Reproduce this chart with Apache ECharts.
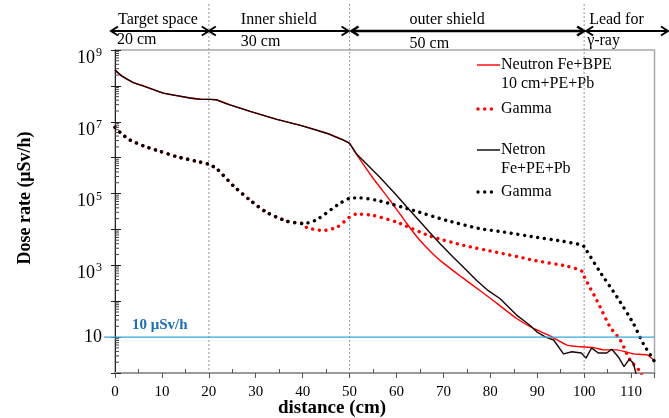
<!DOCTYPE html>
<html><head><meta charset="utf-8">
<script src="https://cdn.jsdelivr.net/npm/echarts@6/dist/echarts.min.js"></script>
<style>html,body{margin:0;padding:0;background:#fff}#c{width:669px;height:418px}</style>
</head><body><div id="c"></div>
<script>
const FONT = '"Liberation Serif", "Times New Roman", serif';

// ---- data (distance in cm, dose rate in µSv/h) ----
const neutronSharedX = [0, 1.4, 3.9, 6, 10.3, 16, 18.5, 20.3, 21.6, 24.5, 28.8, 34.5, 40.1, 45.1, 48.7, 50];
const neutronSharedY = [2.75e8, 1.9e8, 1.23e8, 1.0e8, 6.3e7, 4.6e7, 4.2e7, 4.2e7, 4.1e7, 2.95e7, 1.95e7, 1.17e7, 7.6e6, 4.8e6, 3.1e6, 2.5e6];

const neutronBpeX = [51.2, 54.9, 58.6, 62, 64, 66, 68, 70, 74, 78, 82.1, 85.6, 89.2, 92.8, 96.3, 99.1, 102, 104.1, 107, 110.5, 113.4, 115];
const neutronBpeY = [1.4e6, 2.8e5, 6.5e4, 1.6e4, 7.1e3, 3.55e3, 1.95e3, 1.15e3, 460, 190, 74, 33, 17.4, 10.7, 6.0, 5.4, 5.1, 4.4, 4.4, 3.4, 3.2, 2.2];

const neutronPeX = [51.5, 56.5, 60.1, 62.2, 65, 67, 69.3, 72, 74.5, 77.1, 79.5, 82.1, 85.6, 88.5, 89.9, 91.7, 93.5, 95.6, 97.4, 99.4, 100.4, 101.6, 103, 104.8, 105.9, 107.3, 108.5, 109.6, 110.5, 111.3];
const neutronPeY = [1.26e6, 2.8e5, 8.7e4, 4.2e4, 1.66e4, 8.5e3, 4.0e3, 1.74e3, 830, 380, 200, 117, 41, 21, 14, 10.2, 8.3, 3.4, 3.9, 3.6, 2.6, 5.0, 3.6, 3.6, 4.6, 2.8, 1.5, 2.4, 1.9, 0.7];

const gammaSharedX = [0, 1.4, 3.2, 6.0, 9.6, 13.1, 17.4, 19.9, 21.7, 25.2, 28.8, 32.3, 36.6, 40.2];
const gammaSharedY = [7.0e6, 4.6e6, 3.1e6, 2.14e6, 1.5e6, 1.07e6, 7.9e5, 6.6e5, 4.9e5, 1.66e5, 6.5e4, 3.0e4, 1.7e4, 1.45e4];

const gammaBpeX = [40.9, 44.4, 47.3, 50, 51.5, 55.1, 60.1, 67.2, 74.3, 81.4, 87.1, 89.2, 96.3, 99.5, 100.2, 102.7, 105.5, 107.7, 109.8, 111.9, 113];
const gammaBpeY = [1.12e4, 9.3e3, 1.15e4, 2.2e4, 2.7e4, 2.45e4, 1.58e4, 6.5e3, 3.6e3, 2.3e3, 1.6e3, 1.38e3, 950, 690, 430, 107, 19.5, 8.3, 2.3, 1.1, 0.5];

const gammaPeX = [43, 47.3, 50, 52.2, 56.5, 63.6, 70.7, 77.8, 82.8, 89.2, 94.9, 99.7, 100.5, 103.4, 107, 110.5, 112.6, 115];
const gammaPeY = [1.86e4, 4.7e4, 7.4e4, 7.6e4, 6.2e4, 3.4e4, 1.78e4, 1.05e4, 8.5e3, 6.2e3, 4.8e3, 3.6e3, 2.6e3, 650, 132, 24, 6.6, 2.1];

const limitValue = 10;
const limitLabel = '10 μSv/h';
const sectionBounds = [0, 20, 50, 100, 115];
const sectionNames = ['Target space', 'Inner shield', 'outer shield', 'Lead for'];
const sectionSizes = ['20 cm', '30 cm', '50 cm', 'γ-ray'];
const legendNames = [['Neutron Fe+BPE', '10 cm+PE+Pb'], ['Gamma'], ['Netron', 'Fe+PE+Pb'], ['Gamma']];

const zip = (xs, ys) => xs.map((x, i) => [x, ys[i]]);
const redNeutron = zip(neutronSharedX.concat(neutronBpeX), neutronSharedY.concat(neutronBpeY));
const blackNeutron = zip(neutronSharedX.concat(neutronPeX), neutronSharedY.concat(neutronPeY));
const redGamma = zip(gammaSharedX.concat(gammaBpeX), gammaSharedY.concat(gammaBpeY));
const blackGamma = zip(gammaSharedX.concat(gammaPeX), gammaSharedY.concat(gammaPeY));

// log minor tick positions (axis decoration)
const logMinor = [];
for (let n = 0; n < 9; n++) for (let k = 2; k <= 9; k++) logMinor.push([0, k * Math.pow(10, n)]);

const DOT = [0.01, 6.7];

const chart = echarts.init(document.getElementById('c'), null, {renderer: 'canvas'});
const option = {
  animation: false,
  backgroundColor: '#fff',
  grid: {left: 115, right: 14.5, top: 50, bottom: 45, show: true, borderColor: '#a8a8a8', borderWidth: 1.5},
  xAxis: [{
    type: 'value', min: 0, max: 115, interval: 10,
    axisLine: {lineStyle: {color: '#9a9a9a', width: 2}},
    axisTick: {show: true, length: 5, lineStyle: {color: '#555', width: 1}},
    minorTick: {show: false},
    splitLine: {show: false},
    showMaxLabel: false,
    axisLabel: {margin: 12, fontFamily: FONT, fontSize: 15, color: '#000',
      formatter: v => (v % 10 === 0 ? String(v) : '')}
  }, {
    type: 'value', min: 0, max: 115, interval: 10, position: 'bottom',
    axisLine: {show: false},
    axisTick: {show: false, inside: true},
    minorTick: {show: true, splitNumber: 2, length: 4, lineStyle: {color: '#555', width: 1}},
    splitLine: {show: false},
    axisLabel: {show: false}
  }],
  yAxis: [{
    type: 'log', logBase: 10, min: 1, max: 1e9, interval: 1,
    axisLine: {show: true, lineStyle: {color: '#222', width: 1}},
    axisTick: {show: true, length: 4, lineStyle: {color: '#222'}},
    splitLine: {show: false},
    axisLabel: {
      margin: 13, fontFamily: FONT, color: '#000',
      formatter: v => {
        const e = Math.round(Math.log10(v));
        if (e % 2 === 0) return '';
        if (e === 1) return '{c|10}';
        return '{a|10}{b|' + e + '}';
      },
      rich: {
        a: {fontFamily: FONT, fontSize: 18, color: '#000', padding: [16, 0, 0, 0], verticalAlign: 'top'},
        b: {fontFamily: FONT, fontSize: 12, color: '#000', verticalAlign: 'top', padding: [14, 0, 0, 1]},
        c: {fontFamily: FONT, fontSize: 18, color: '#000'}
      }
    }
  }, {
    type: 'log', logBase: 10, min: 1, max: 1e9, interval: 1, position: 'left',
    axisLine: {show: false},
    axisTick: {show: true, inside: true, length: 6, lineStyle: {color: '#222'}},
    splitLine: {show: false},
    axisLabel: {show: false}
  }],
  series: [
    {type: 'line', name: 'redGamma', data: redGamma, showSymbol: false, smooth: 0.2, z: 2,
     lineStyle: {color: '#ff0000', width: 3.4, type: DOT, cap: 'round'}},
    {type: 'line', name: 'redNeutron', data: redNeutron, showSymbol: false, smooth: 0.15, z: 3,
     lineStyle: {color: '#ff0000', width: 1.4}},
    {type: 'line', name: 'blackGamma', data: blackGamma, showSymbol: false, smooth: 0.2, z: 4,
     lineStyle: {color: '#000', width: 3.4, type: DOT, cap: 'round'}},
    {type: 'line', name: 'blackNeutron', data: blackNeutron, showSymbol: false, z: 5,
     lineStyle: {color: '#1a0505', width: 1.4}},
    {type: 'custom', silent: true, data: logMinor, z: 6, clip: false,
     renderItem: (params, api) => {
       const p = api.coord([0, api.value(1)]);
       return {type: 'line', shape: {x1: p[0], y1: p[1], x2: p[0] + 4, y2: p[1]},
               style: {stroke: '#444', lineWidth: 1}};
     }}
  ]
};
chart.setOption(option);

const X = v => chart.convertToPixel({xAxisIndex: 0}, v);
const Y = v => chart.convertToPixel({yAxisIndex: 0}, v);
const g = [];
const plotBottom = Y(1), plotLeft = X(0), plotRight = X(115);

// dashed section boundaries
[20, 50, 100].forEach(v => {
  g.push({type: 'line', z: 1, shape: {x1: X(v), y1: 4, x2: X(v), y2: plotBottom},
          style: {stroke: '#8d99aa', lineWidth: 1, lineDash: [2, 2]}});
});

// section arrows
const arrowY = 31;
const head = (x, dir, w) => ({type: 'polyline', shape: {points: [[x - dir * 7, arrowY - 4.5], [x, arrowY], [x - dir * 7, arrowY + 4.5]]},
  style: {stroke: '#000', lineWidth: w, fill: null}});
const segs = [[plotLeft - 4, X(20)], [X(20), X(50) - 1], [X(50) + 2, X(100)], [X(100) + 2, 668]];
const widths = [2, 2, 2.6, 2];
const nameDx = [3, 32, 60, 5];
const sizeDx = [2, 32, 60, 3];
const sizeY = [40, 42, 44, 41];
segs.forEach((s, i) => {
  g.push({type: 'line', shape: {x1: s[0], y1: arrowY, x2: s[1], y2: arrowY}, style: {stroke: '#000', lineWidth: widths[i]}});
  g.push(head(s[0], -1, widths[i]));
  g.push(head(s[1], 1, widths[i]));
  const x0 = X(sectionBounds[i]);
  g.push({type: 'text', x: x0 + nameDx[i], y: 20, style: {text: sectionNames[i], font: '16px ' + FONT, fill: '#000', verticalAlign: 'middle'}});
  g.push({type: 'text', x: x0 + sizeDx[i], y: sizeY[i], style: {text: sectionSizes[i], font: '16px ' + FONT, fill: '#000', verticalAlign: 'middle'}});
});

// 10 µSv/h line
const ly = Y(limitValue);
g.push({type: 'line', z: 7, shape: {x1: plotLeft - 11, y1: ly, x2: plotRight, y2: ly}, style: {stroke: '#3aa6dc', lineWidth: 1.3}});
g.push({type: 'text', z: 7, x: plotLeft + 17, y: ly - 12, style: {text: limitLabel, font: 'bold 15px ' + FONT, fill: '#1f6db8', verticalAlign: 'middle'}});

// legend
const legY = [65, 109, 150, 192];
const legColor = ['#ff0000', '#ff0000', '#000', '#000'];
const legDot = [false, true, false, true];
legendNames.forEach((nm, i) => {
  const y = legY[i];
  if (legDot[i]) {
    g.push({type: 'line', shape: {x1: 478, y1: y, x2: 498, y2: y}, style: {stroke: legColor[i], lineWidth: 3.4, lineDash: DOT, lineCap: 'round'}});
  } else {
    g.push({type: 'line', shape: {x1: 477, y1: y, x2: 500, y2: y}, style: {stroke: legColor[i], lineWidth: 1.4}});
  }
  nm.forEach((t, j) => {
    g.push({type: 'text', x: 501, y: y + j * 19, style: {text: t, font: '16px ' + FONT, fill: '#000', verticalAlign: 'middle'}});
  });
});

// axis titles
g.push({type: 'text', x: 25, y: 198, rotation: Math.PI / 2,
        style: {text: 'Dose rate (μSv/h)', font: 'bold 18px ' + FONT, fill: '#000', align: 'center', verticalAlign: 'middle'}});
g.push({type: 'text', x: 332, y: 408,
        style: {text: 'distance (cm)', font: 'bold 19px ' + FONT, fill: '#000', align: 'center', verticalAlign: 'middle'}});

chart.setOption({graphic: g});
</script>
</body></html>
